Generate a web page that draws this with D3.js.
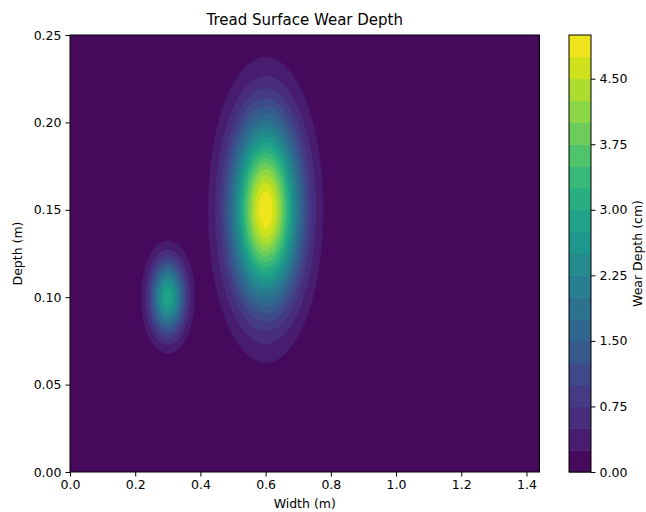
<!DOCTYPE html>
<html>
<head>
<meta charset="utf-8">
<script src="https://cdn.jsdelivr.net/npm/d3@7"></script>
<style>
  body { margin: 0; background: #fff; }
  svg { display: block; }
  text { font-family: "DejaVu Sans", sans-serif; fill: #000; }
</style>
</head>
<body>
<svg width="646" height="512"></svg>
<script>
// wear spots (metres / cm)
var spotX = [0.3, 0.6];
var spotY = [0.10, 0.15];
var spotSigmaX = [0.0366, 0.0723];
var spotSigmaY = [0.0145, 0.0358];
var spotPeak = [2.95, 4.95];

var xDomain = [0, 1.44];
var yDomain = [0, 0.25];
var levels = [0, 0.25, 0.5, 0.75, 1.0, 1.25, 1.5, 1.75, 2.0, 2.25, 2.5, 2.75,
  3.0, 3.25, 3.5, 3.75, 4.0, 4.25, 4.5, 4.75, 5.0];
var xTicks = [0, 0.2, 0.4, 0.6, 0.8, 1.0, 1.2, 1.4];
var yTicks = [0, 0.05, 0.10, 0.15, 0.20, 0.25];
var cbarTicks = [0, 0.75, 1.5, 2.25, 3.0, 3.75, 4.5];

var svg = d3.select("svg"),
  marginLeft = 70, marginTop = 35, width = 469.5, height = 437;

var xScale = d3.scaleLinear().domain(xDomain).range([0, width]);
var yScale = d3.scaleLinear().domain(yDomain).range([height, 0]);
var zMax = levels[levels.length - 1];
var colour = function (lo, hi) {
  return d3.interpolateViridis((lo + hi) / 2 / zMax);
};

// grid of wear depth
var nx = 430, ny = 250;
var values = new Array(nx * ny);
for (var j = 0; j < ny; j++) {
  var y = yDomain[0] + (j / (ny - 1)) * (yDomain[1] - yDomain[0]);
  for (var i = 0; i < nx; i++) {
    var x = xDomain[0] + (i / (nx - 1)) * (xDomain[1] - xDomain[0]);
    var z = 0;
    for (var k = 0; k < spotX.length; k++) {
      var dx = (x - spotX[k]) / spotSigmaX[k],
        dy = (y - spotY[k]) / spotSigmaY[k];
      z += spotPeak[k] * Math.exp(-0.5 * (dx * dx + dy * dy));
    }
    values[j * nx + i] = z;
  }
}

var g = svg.append("g").attr("transform", "translate(" + marginLeft + "," + marginTop + ")");

svg.append("defs").append("clipPath").attr("id", "clip")
  .append("rect").attr("width", width).attr("height", height);

var proj = d3.geoTransform({
  point: function (px, py) {
    var gx = xDomain[0] + ((px - 0.5) / (nx - 1)) * (xDomain[1] - xDomain[0]);
    var gy = yDomain[0] + ((py - 0.5) / (ny - 1)) * (yDomain[1] - yDomain[0]);
    this.stream.point(xScale(gx), yScale(gy));
  }
});
var path = d3.geoPath(proj);

var bands = d3.contours().size([nx, ny]).thresholds(levels.slice(0, -1))(values);

g.append("g")
  .attr("clip-path", "url(#clip)")
  .selectAll("path")
  .data(bands)
  .enter()
  .append("path")
  .attr("d", path)
  .attr("fill", function (d, i) {
    return colour(levels[i], levels[i + 1]);
  })
  .attr("stroke", function (d, i) {
    return colour(levels[i], levels[i + 1]);
  })
  .attr("stroke-width", 0.4);

// axes
var xAxis = g.append("g")
  .attr("transform", "translate(0," + height + ")")
  .call(d3.axisBottom(xScale).tickValues(xTicks).tickFormat(d3.format(".1f")).tickSizeOuter(0).tickSize(4.5).tickPadding(4));
var yAxis = g.append("g")
  .call(d3.axisLeft(yScale).tickValues(yTicks).tickFormat(d3.format(".2f")).tickSizeOuter(0).tickSize(4.5).tickPadding(4));
[xAxis, yAxis].forEach(function (a) {
  a.select(".domain").remove();
  a.selectAll("text").attr("font-size", "12.5px").attr("font-family", "DejaVu Sans, sans-serif").attr("fill", "#000");
  a.selectAll("line").attr("stroke", "#000").attr("stroke-width", 1);
});

g.append("rect")
  .attr("width", width)
  .attr("height", height)
  .attr("fill", "none")
  .attr("stroke", "#000")
  .attr("stroke-width", 1);

// labels
svg.append("text")
  .attr("x", marginLeft + width / 2)
  .attr("y", 25)
  .attr("text-anchor", "middle")
  .attr("font-size", "15px")
  .text("Tread Surface Wear Depth");

svg.append("text")
  .attr("x", marginLeft + width / 2)
  .attr("y", 508)
  .attr("text-anchor", "middle")
  .attr("font-size", "12.5px")
  .text("Width (m)");

svg.append("text")
  .attr("transform", "translate(22," + (marginTop + height / 2) + ") rotate(-90)")
  .attr("text-anchor", "middle")
  .attr("font-size", "12.5px")
  .text("Depth (m)");

// colorbar
var cbLeft = 569, cbWidth = 22;
var cScale = d3.scaleLinear().domain([levels[0], zMax]).range([height, 0]);
var cb = svg.append("g").attr("transform", "translate(" + cbLeft + "," + marginTop + ")");

cb.selectAll("rect.band")
  .data(levels.slice(0, -1))
  .enter()
  .append("rect")
  .attr("class", "band")
  .attr("x", 0)
  .attr("width", cbWidth)
  .attr("y", function (d, i) { return cScale(levels[i + 1]); })
  .attr("height", function (d, i) { return cScale(levels[i]) - cScale(levels[i + 1]) + 0.5; })
  .attr("fill", function (d, i) { return colour(levels[i], levels[i + 1]); });

cb.append("rect")
  .attr("width", cbWidth)
  .attr("height", height)
  .attr("fill", "none")
  .attr("stroke", "#000")
  .attr("stroke-width", 1);

var cAxis = cb.append("g")
  .attr("transform", "translate(" + cbWidth + ",0)")
  .call(d3.axisRight(cScale).tickValues(cbarTicks).tickFormat(d3.format(".2f")).tickSizeOuter(0).tickSize(4.5).tickPadding(4));
cAxis.select(".domain").remove();
cAxis.selectAll("text").attr("font-size", "12.5px").attr("font-family", "DejaVu Sans, sans-serif").attr("fill", "#000");
cAxis.selectAll("line").attr("stroke", "#000").attr("stroke-width", 1);

svg.append("text")
  .attr("transform", "translate(642," + (marginTop + height / 2) + ") rotate(-90)")
  .attr("text-anchor", "middle")
  .attr("font-size", "12.5px")
  .text("Wear Depth (cm)");
</script>
</body>
</html>
